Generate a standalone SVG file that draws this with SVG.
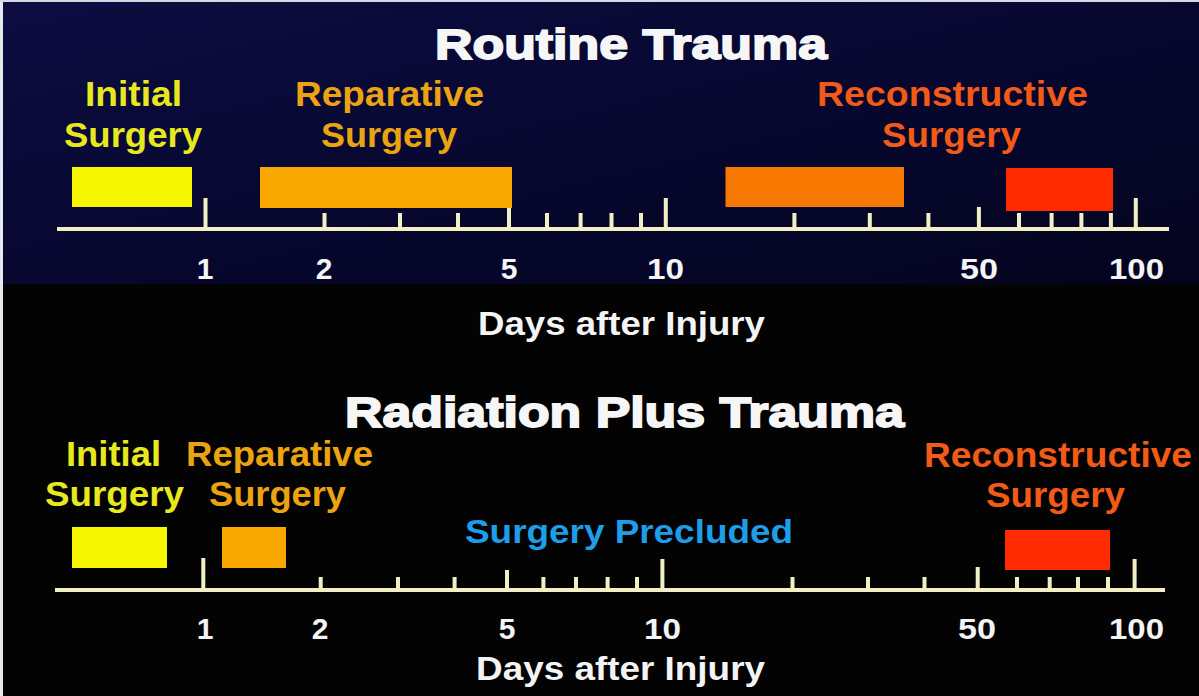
<svg xmlns="http://www.w3.org/2000/svg" width="1199" height="696" viewBox="0 0 1199 696">
<defs>
<linearGradient id="navy" x1="0" y1="0" x2="1" y2="1">
<stop offset="0" stop-color="#0d0d42"/>
<stop offset="0.5" stop-color="#070730"/>
<stop offset="1" stop-color="#04041f"/>
</linearGradient>
<style>
text{font-family:"Liberation Sans",Arial,sans-serif;font-weight:bold;text-anchor:start}
.title{font-size:43px;fill:#f6f6f6;stroke:#f6f6f6;stroke-width:1.8px}
.lbl{font-size:35px}
.yel{fill:#e8e81e}
.org{fill:#eca312}
.red{fill:#f25a18}
.blu{fill:#1e9ee8;font-size:33px}
.num{font-size:30px;fill:#f4f4f4}
.days{font-size:33px;fill:#f4f4f4}
.axis{stroke:#f3efc4;stroke-width:4;fill:none}
.tick{stroke:#f3efc4;stroke-width:4;fill:none}
</style>
</defs>
<rect x="0" y="0" width="1199" height="696" fill="#030304"/>
<rect x="0" y="0" width="1199" height="284" fill="url(#navy)"/>
<rect x="0" y="0" width="3" height="696" fill="#e8e8ee"/>
<rect x="0" y="0" width="1199" height="2" fill="#d8d8e4"/>

<g id="title-top"><text class="title" x="435" y="59" textLength="392" lengthAdjust="spacingAndGlyphs">Routine Trauma</text></g>
<g id="title-bottom"><text class="title" x="345" y="427" textLength="559" lengthAdjust="spacingAndGlyphs">Radiation Plus Trauma</text></g>

<g id="connectors">
<g id="axis-top">
<line class="axis" x1="57" y1="229" x2="1169" y2="229"/>
<path class="tick" d="M205.5 229V198M324.5 229V213M400 229V213M458 229V213M509 229V208M547 229V213M580.6 229V213M611.5 229V213M641 229V213M665.8 229V198M794.4 229V213M869.8 229V213M928.4 229V213M978.9 229V207M1019 229V213M1051.6 229V213M1081.4 229V213M1110.9 229V213M1135.8 229V198"/>
<g class="num">
<text x="205" y="279" style="text-anchor:middle">1</text>
<text x="324" y="279" style="text-anchor:middle">2</text>
<text x="509" y="279" style="text-anchor:middle">5</text>
<text x="647" y="279" textLength="37" lengthAdjust="spacingAndGlyphs">10</text>
<text x="960" y="279" textLength="38" lengthAdjust="spacingAndGlyphs">50</text>
<text x="1109" y="279" textLength="55" lengthAdjust="spacingAndGlyphs">100</text>
</g>
<text class="days" x="478" y="335" textLength="287" lengthAdjust="spacingAndGlyphs">Days after Injury</text>
</g>
<g id="axis-bottom">
<line class="axis" x1="55" y1="590" x2="1165" y2="590"/>
<path class="tick" d="M203.3 590V558M320.7 590V577M398 590V577M454.6 590V577M507 590V570M543.4 590V577M576 590V577M607.6 590V577M637 590V577M662.4 590V559M792.5 590V577M868 590V577M924.5 590V577M977.7 590V567M1017 590V577M1049.7 590V577M1078 590V577M1108 590V577M1134.6 590V559"/>
<g class="num">
<text x="205" y="639" style="text-anchor:middle">1</text>
<text x="320" y="639" style="text-anchor:middle">2</text>
<text x="507" y="639" style="text-anchor:middle">5</text>
<text x="644" y="639" textLength="37" lengthAdjust="spacingAndGlyphs">10</text>
<text x="958" y="639" textLength="38" lengthAdjust="spacingAndGlyphs">50</text>
<text x="1109" y="639" textLength="55" lengthAdjust="spacingAndGlyphs">100</text>
</g>
<text class="days" x="476" y="680" textLength="289" lengthAdjust="spacingAndGlyphs">Days after Injury</text>
</g>
</g>

<g id="top-initial">
<text class="lbl yel" x="85" y="106" textLength="97" lengthAdjust="spacingAndGlyphs">Initial</text>
<text class="lbl yel" x="64" y="147" textLength="138" lengthAdjust="spacingAndGlyphs">Surgery</text>
<rect x="72" y="167" width="120" height="40" fill="#f6f600"/>
</g>
<g id="top-reparative">
<text class="lbl org" x="295" y="106" textLength="189" lengthAdjust="spacingAndGlyphs">Reparative</text>
<text class="lbl org" x="321" y="147" textLength="136" lengthAdjust="spacingAndGlyphs">Surgery</text>
<rect x="260" y="167" width="252" height="41" fill="#f8a800"/>
</g>
<g id="top-reconstructive">
<text class="lbl red" x="817" y="106" textLength="271" lengthAdjust="spacingAndGlyphs">Reconstructive</text>
<text class="lbl red" x="882" y="147" textLength="139" lengthAdjust="spacingAndGlyphs">Surgery</text>
<rect x="725.5" y="167" width="178.5" height="40" fill="#f67800"/>
<rect x="1006" y="168" width="107" height="43" fill="#ff2a00"/>
</g>

<g id="bottom-initial">
<text class="lbl yel" x="66" y="466" textLength="95" lengthAdjust="spacingAndGlyphs">Initial</text>
<text class="lbl yel" x="45" y="506" textLength="139" lengthAdjust="spacingAndGlyphs">Surgery</text>
<rect x="72" y="527" width="95" height="41" fill="#f6f600"/>
</g>
<g id="bottom-reparative">
<text class="lbl org" x="186" y="466" textLength="187" lengthAdjust="spacingAndGlyphs">Reparative</text>
<text class="lbl org" x="209" y="506" textLength="137" lengthAdjust="spacingAndGlyphs">Surgery</text>
<rect x="222" y="527" width="64" height="41" fill="#f8a800"/>
</g>
<g id="bottom-precluded">
<text class="blu" x="465" y="543" textLength="328" lengthAdjust="spacingAndGlyphs">Surgery Precluded</text>
</g>
<g id="bottom-reconstructive">
<text class="lbl red" x="924" y="467" textLength="268" lengthAdjust="spacingAndGlyphs">Reconstructive</text>
<text class="lbl red" x="986" y="507" textLength="139" lengthAdjust="spacingAndGlyphs">Surgery</text>
<rect x="1005" y="530" width="105" height="40" fill="#ff2a00"/>
</g>
</svg>
